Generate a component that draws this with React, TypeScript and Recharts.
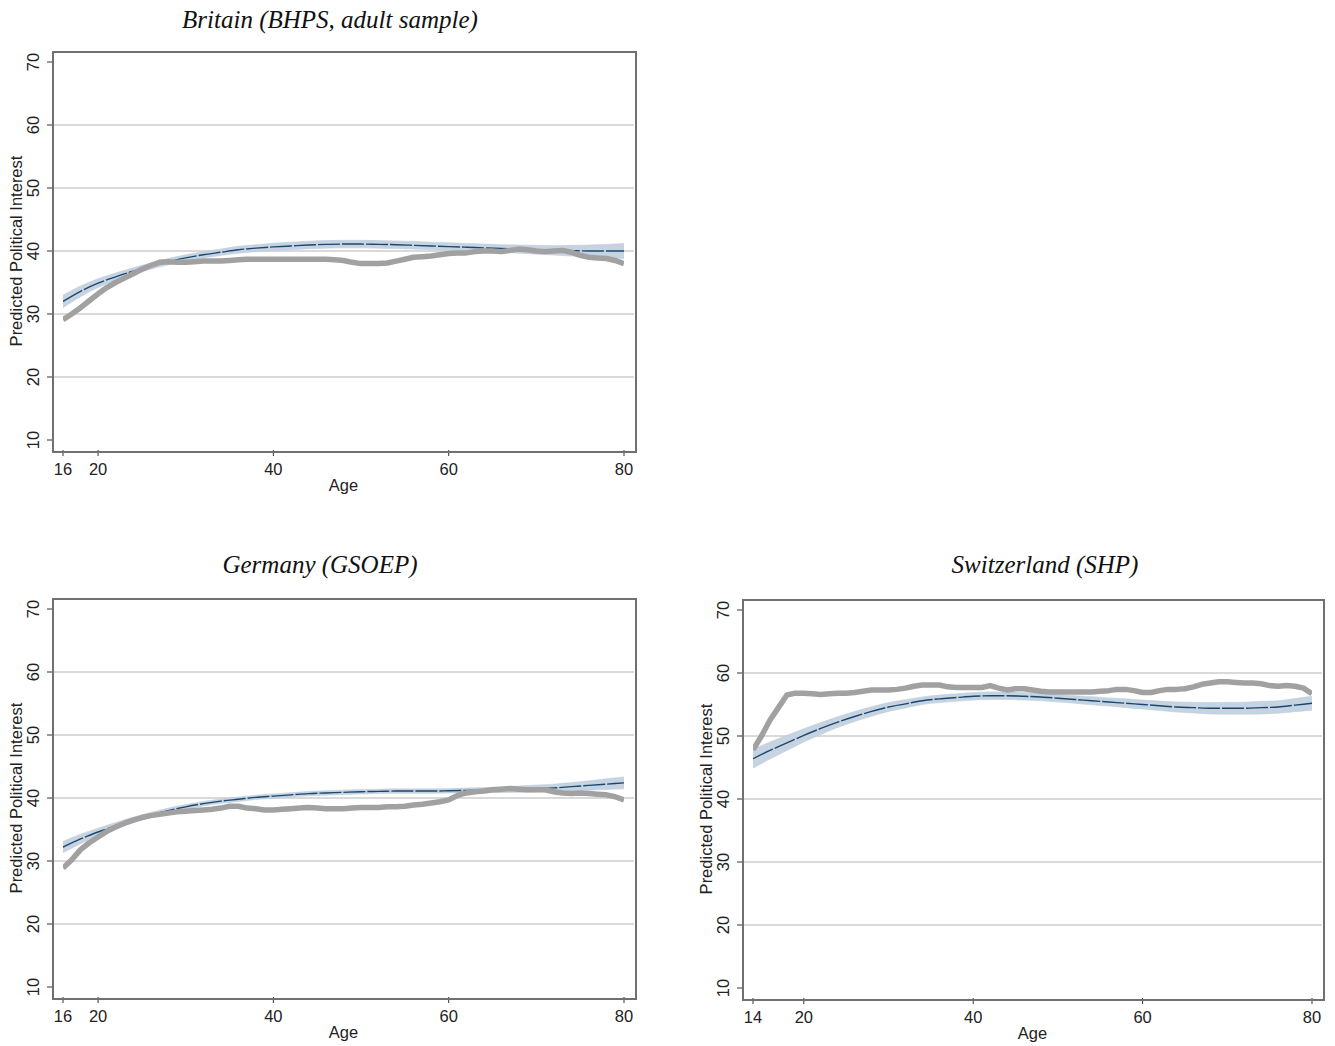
import React from 'react';
import { ComposedChart, Line, Area, XAxis, YAxis, CartesianGrid, Label } from 'recharts';

// fitted curve ages (every 2 years)
const ukFitAges = [16, 18, 20, 22, 24, 26, 28, 30, 32, 34, 36, 38, 40, 42, 44, 46, 48, 50, 52, 54, 56, 58, 60, 62, 64, 66, 68, 70, 72, 74, 76, 78, 80];
const chFitAges = [14, ...ukFitAges];

const ukFit = [32.0, 33.6, 34.9, 35.9, 36.8, 37.6, 38.3, 38.9, 39.4, 39.8, 40.2, 40.45, 40.65, 40.8, 40.95, 41.05, 41.1, 41.1, 41.05, 41.0, 40.9, 40.8, 40.7, 40.6, 40.5, 40.4, 40.3, 40.2, 40.1, 40.05, 40.0, 40.0, 40.0];
const ukCi = [1.0, 0.85, 0.7, 0.6, 0.55, 0.5, 0.5, 0.5, 0.5, 0.5, 0.55, 0.55, 0.6, 0.6, 0.6, 0.6, 0.6, 0.6, 0.6, 0.6, 0.6, 0.6, 0.6, 0.6, 0.6, 0.6, 0.65, 0.7, 0.75, 0.85, 0.95, 1.05, 1.2];

const deFit = [32.2, 33.5, 34.6, 35.6, 36.5, 37.3, 38.0, 38.6, 39.1, 39.5, 39.8, 40.1, 40.3, 40.5, 40.7, 40.8, 40.9, 41.0, 41.05, 41.1, 41.1, 41.1, 41.15, 41.2, 41.25, 41.3, 41.4, 41.5, 41.6, 41.8, 42.0, 42.2, 42.4];
const deCi = [0.9, 0.75, 0.6, 0.5, 0.45, 0.4, 0.4, 0.35, 0.35, 0.35, 0.35, 0.35, 0.35, 0.35, 0.35, 0.35, 0.35, 0.35, 0.35, 0.35, 0.35, 0.35, 0.35, 0.4, 0.4, 0.45, 0.5, 0.55, 0.6, 0.65, 0.75, 0.85, 0.95];

const chFit = [46.4, 47.7, 48.9, 50.1, 51.2, 52.2, 53.1, 53.9, 54.6, 55.1, 55.6, 55.9, 56.1, 56.3, 56.4, 56.4, 56.3, 56.2, 56.0, 55.8, 55.6, 55.4, 55.2, 55.0, 54.8, 54.6, 54.5, 54.4, 54.4, 54.4, 54.5, 54.6, 54.9, 55.2];
const chCi = [1.5, 1.35, 1.2, 1.05, 0.95, 0.85, 0.8, 0.75, 0.7, 0.65, 0.6, 0.6, 0.6, 0.6, 0.6, 0.6, 0.6, 0.6, 0.6, 0.6, 0.65, 0.65, 0.7, 0.7, 0.75, 0.8, 0.85, 0.9, 0.95, 0.95, 1.0, 1.0, 1.05, 1.1];

// observed averages, one per year of age
const ukRaw = [29.1, 30.0, 31.0, 32.1, 33.2, 34.2, 35.0, 35.7, 36.4, 37.1, 37.7, 38.2, 38.3, 38.2, 38.2, 38.3, 38.4, 38.4, 38.4, 38.5, 38.6, 38.7, 38.7, 38.7, 38.7, 38.7, 38.7, 38.7, 38.7, 38.7, 38.7, 38.6, 38.5, 38.2, 38.0, 38.0, 38.0, 38.1, 38.4, 38.7, 39.0, 39.1, 39.2, 39.4, 39.6, 39.7, 39.7, 39.9, 40.0, 40.0, 39.9, 40.1, 40.3, 40.2, 40.0, 39.9, 40.0, 40.1, 39.8, 39.3, 39.0, 38.9, 38.8, 38.5, 38.0];
const deRaw = [28.9, 30.2, 31.8, 32.9, 33.8, 34.7, 35.4, 36.0, 36.5, 36.9, 37.2, 37.4, 37.6, 37.8, 37.9, 38.0, 38.1, 38.2, 38.4, 38.7, 38.7, 38.4, 38.3, 38.1, 38.1, 38.2, 38.3, 38.4, 38.5, 38.4, 38.3, 38.3, 38.3, 38.4, 38.5, 38.5, 38.5, 38.6, 38.6, 38.7, 38.9, 39.0, 39.2, 39.4, 39.7, 40.4, 40.8, 41.0, 41.1, 41.3, 41.4, 41.5, 41.4, 41.3, 41.3, 41.3, 41.0, 40.8, 40.7, 40.8, 40.7, 40.6, 40.5, 40.2, 39.7];
const chRaw = [47.8, 50.0, 52.5, 54.5, 56.5, 56.8, 56.8, 56.7, 56.6, 56.7, 56.8, 56.8, 56.9, 57.1, 57.3, 57.3, 57.3, 57.4, 57.6, 57.9, 58.1, 58.1, 58.1, 57.8, 57.7, 57.7, 57.7, 57.7, 58.0, 57.6, 57.3, 57.5, 57.5, 57.3, 57.1, 57.0, 57.0, 57.0, 57.0, 57.0, 57.0, 57.1, 57.2, 57.4, 57.4, 57.2, 56.9, 56.9, 57.2, 57.4, 57.4, 57.5, 57.8, 58.2, 58.4, 58.6, 58.6, 58.5, 58.4, 58.4, 58.3, 58.0, 57.9, 58.0, 57.9, 57.6, 56.7];

const yTicks = [10, 20, 30, 40, 50, 60, 70];
const gridValues = [20, 30, 40, 50, 60];
const ukTicks = [16, 20, 40, 60, 80];
const chTicks = [14, 20, 40, 60, 80];

const AXIS_W = 53;
const TOP = 12;
const BOTTOM = 60;
const RIGHT = 10;
const FS = 16.5;
const sans = '"Liberation Sans", Arial, sans-serif';

const XTick = (props: any) => {
  const { x, y, payload } = props;
  return (
    <text x={x} y={y + 17} textAnchor="middle" fontSize={FS} fill="#222" fontFamily={sans}>
      {payload.value}
    </text>
  );
};

const YTick = (props: any) => {
  const { x, y, payload } = props;
  return (
    <text transform={`translate(${x - 6},${y}) rotate(-90)`} textAnchor="middle" fontSize={FS} fill="#222" fontFamily={sans}>
      {payload.value}
    </text>
  );
};

interface PanelProps {
  title: string;
  titleX: number;
  titleY: number;
  left: number;
  top: number;
  plotW: number;
  plotH: number;
  fitAges: number[];
  fit: number[];
  ci: number[];
  rawStart: number;
  raw: number[];
  xTicks: number[];
}

function Panel({ title, titleX, titleY, left, top, plotW, plotH, fitAges, fit, ci, rawStart, raw, xTicks }: PanelProps) {
  const fitData = fitAges.map((age, i) => ({ age, fit: fit[i], band: [fit[i] - ci[i], fit[i] + ci[i]] }));
  const rawData = raw.map((v, i) => ({ age: rawStart + i, raw: v }));

  return (
    <>
      <div
        style={{
          position: 'absolute', left: titleX - 250, top: titleY - 21, width: 500, textAlign: 'center',
          fontFamily: '"Liberation Serif", serif', fontStyle: 'italic', fontSize: 25, lineHeight: '25px', color: '#111',
        }}
      >
        {title}
      </div>
      <div style={{ position: 'absolute', left: left - AXIS_W, top: top - TOP }}>
        <ComposedChart
          width={AXIS_W + plotW + RIGHT}
          height={TOP + plotH + BOTTOM}
          margin={{ top: TOP, right: RIGHT, bottom: 0, left: 0 }}
        >
          <CartesianGrid vertical={false} horizontalValues={gridValues} stroke="#b4b4b4" />
          <XAxis
            type="number" dataKey="age" domain={[rawStart, 80]} ticks={xTicks} allowDataOverflow
            padding={{ left: 10, right: 10 }} height={BOTTOM} axisLine={false}
            tickSize={6} tickLine={{ stroke: '#333' }} tick={<XTick />}
          >
            <Label
              content={() => (
                <text x={AXIS_W + plotW / 2} y={TOP + plotH + 41} textAnchor="middle" fontSize={FS} fill="#222" fontFamily={sans}>
                  Age
                </text>
              )}
            />
          </XAxis>
          <YAxis
            type="number" domain={[10, 70]} ticks={yTicks} allowDataOverflow
            padding={{ top: 10, bottom: 10 }} width={AXIS_W} axisLine={false}
            tickSize={6} tickLine={{ stroke: '#333' }} tick={<YTick />}
          >
            <Label
              content={() => (
                <text transform={`translate(22,${TOP + plotH / 2}) rotate(-90)`} textAnchor="middle" fontSize={FS} fill="#222" fontFamily={sans}>
                  Predicted Political Interest
                </text>
              )}
            />
          </YAxis>
          <Area data={fitData} dataKey="band" type="monotone" fill="#c6d3e1" fillOpacity={1} stroke="#b9c8d9" strokeWidth={0.5} isAnimationActive={false} />
          <Line data={fitData} dataKey="fit" type="monotone" stroke="#1a476f" strokeWidth={1.4} strokeDasharray="22 2" dot={false} isAnimationActive={false} />
          <Line data={rawData} dataKey="raw" type="linear" stroke="#a1a1a1" strokeWidth={5.5} strokeLinejoin="round" dot={false} isAnimationActive={false} />
        </ComposedChart>
      </div>
      <div
        style={{
          position: 'absolute', left: left - 1, top: top - 1, width: plotW, height: plotH,
          border: '2px solid #707070', pointerEvents: 'none',
        }}
      />
    </>
  );
}

export default function App() {
  return (
    <div style={{ position: 'absolute', left: 0, top: 0, width: 1335, height: 1046, background: '#fff' }}>
      <Panel
        title="Britain (BHPS, adult sample)" titleX={330} titleY={28}
        left={53} top={52} plotW={581} plotH={398}
        fitAges={ukFitAges} fit={ukFit} ci={ukCi} rawStart={16} raw={ukRaw} xTicks={ukTicks}
      />
      <Panel
        title="Germany (GSOEP)" titleX={320} titleY={573}
        left={53} top={599} plotW={581} plotH={398}
        fitAges={ukFitAges} fit={deFit} ci={deCi} rawStart={16} raw={deRaw} xTicks={ukTicks}
      />
      <Panel
        title="Switzerland (SHP)" titleX={1045} titleY={573}
        left={743} top={600} plotW={579} plotH={398}
        fitAges={chFitAges} fit={chFit} ci={chCi} rawStart={14} raw={chRaw} xTicks={chTicks}
      />
    </div>
  );
}
